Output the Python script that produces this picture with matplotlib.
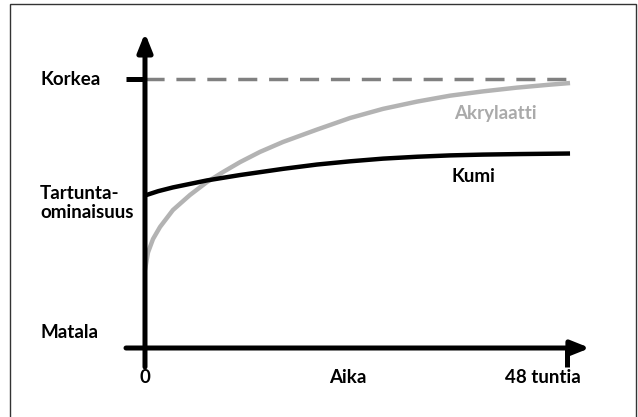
import matplotlib.pyplot as plt
from matplotlib.patches import Rectangle

plt.rcParams['font.family'] = ['Lato', 'DejaVu Sans']

# hours after application vs. adhesion (0 = Matala, 1 = Korkea)
akrylaatti_t = [0, 0.34, 0.91, 1.71, 3.18, 5.12, 7.05, 8.87, 10.81, 13.08, 15.70,
                19.56, 23.32, 27.07, 30.94, 34.69, 38.44, 42.31, 46.06, 48.34]
akrylaatti_v = [0.29, 0.355, 0.405, 0.450, 0.513, 0.569, 0.617, 0.654, 0.691, 0.729, 0.766,
                0.812, 0.855, 0.889, 0.916, 0.938, 0.954, 0.968, 0.979, 0.985]
kumi_t = [0, 1.5, 3.18, 7.05, 10.81, 15.70, 19.56, 23.32, 27.07, 30.94,
          34.69, 38.44, 42.65, 48.34]
kumi_v = [0.567, 0.583, 0.597, 0.623, 0.643, 0.666, 0.682, 0.694, 0.704, 0.711,
          0.716, 0.719, 0.721, 0.723]
korkea = 1.0
t_end = 48

fig = plt.figure(figsize=(6.38, 4.17), dpi=100)
ax = fig.add_axes([0, 0, 1, 1])
ax.set_xlim(-16.49, 56.07)
ax.set_ylim(-0.2565, 1.2937)
ax.axis('off')

# frame around the picture
fig.patches.append(Rectangle((10 / 638, -0.01), 626 / 638, 1 - 4 / 417 + 0.01,
                             transform=fig.transFigure, fill=False,
                             edgecolor='#333333', lw=1.0))

# dashed "Korkea" level
ax.plot([0, 48.35], [korkea, korkea], color='#808080', lw=2.5,
        dashes=(5.5, 3.4), solid_capstyle='butt', dash_capstyle='butt')

# curves
ax.plot(akrylaatti_t, akrylaatti_v, color='#b3b3b3', lw=3.2,
        solid_capstyle='butt', solid_joinstyle='round')
ax.plot(kumi_t, kumi_v, color='black', lw=3.2,
        solid_capstyle='butt', solid_joinstyle='round')

# axes with arrows
arrow = dict(arrowstyle='-|>,head_length=0.55,head_width=0.22', lw=3.6,
             color='black', shrinkA=0, shrinkB=0, mutation_scale=20)
ax.annotate('', xy=(0, 1.171), xytext=(0, -0.0706), arrowprops=arrow)
ax.annotate('', xy=(50.6, 0), xytext=(-2.16, 0), arrowprops=arrow)
ax.plot([-2.16, 0], [korkea, korkea], color='black', lw=3.6, solid_capstyle='butt')
ax.plot([t_end, t_end], [0, -0.0706], color='black', lw=3.6, solid_capstyle='butt')

fs = 13.5
kw = dict(fontsize=fs, fontweight='bold', color='black', va='center')
ax.text(-11.94, korkea, 'Korkea', ha='left', **kw)
ax.text(-11.94, 0.539, 'Tartunta-\nominaisuus', ha='left', linespacing=1.2, **kw)
ax.text(-11.94, 0.056, 'Matala', ha='left', **kw)
ax.text(0, -0.108, '0', ha='center', **kw)
ax.text(23.1, -0.108, 'Aika', ha='center', **kw)
ax.text(45.2, -0.108, '48 tuntia', ha='center', **kw)
ax.text(37.3, 0.636, 'Kumi', ha='center', **kw)
ax.text(39.8, 0.87, 'Akrylaatti', ha='center', fontsize=fs, fontweight='bold',
        color='#aaaaaa', va='center')

fig.savefig('out.png', dpi=100)
